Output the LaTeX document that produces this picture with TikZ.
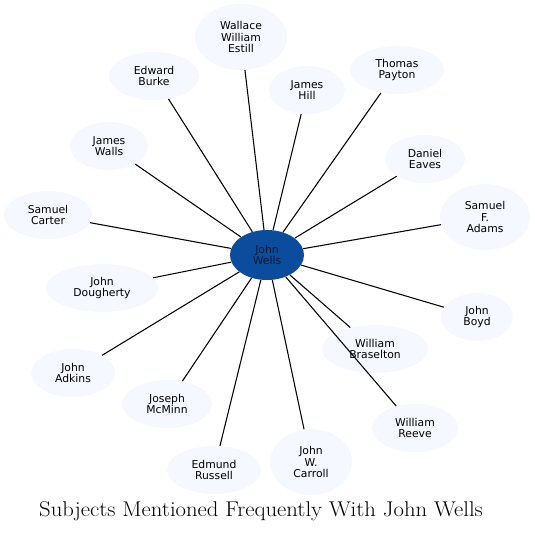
\documentclass[tikz,border=0pt]{standalone}
\usepackage{fontspec}
\newfontfamily\nodefont{DejaVu Sans}
\usetikzlibrary{shapes.geometric}
\definecolor{leaf}{HTML}{F5F8FE}
\definecolor{hub}{HTML}{0B4C9C}
\definecolor{hubtext}{HTML}{101830}
\tikzset{
  leafnode/.style={ellipse, fill=leaf, draw=none, inner sep=0pt, align=center,
    font=\nodefont\fontsize{8.1}{8.7}\selectfont},
  hubnode/.style={ellipse, fill=hub, draw=none, inner sep=0pt, align=center,
    text=hubtext, font=\nodefont\fontsize{8.1}{8.7}\selectfont},
  link/.style={draw=black, line width=0.8pt},
}
\begin{document}
\begin{tikzpicture}[x=0.75pt,y=-0.75pt]
\useasboundingbox (0,0) rectangle (535,532);
\node[hubnode, minimum width=55.5pt, minimum height=37.5pt] (jw) at (267,255) {John\\Wells};
\node[leafnode, minimum width=69pt, minimum height=49.5pt] (wwe) at (241,37) {Wallace\\William\\Estill};
\node[leafnode, minimum width=67.5pt, minimum height=36pt] (eb) at (154,76) {Edward\\Burke};
\node[leafnode, minimum width=57pt, minimum height=36pt] (jh) at (307,90) {James\\Hill};
\node[leafnode, minimum width=70.5pt, minimum height=36pt] (tp) at (397,70) {Thomas\\Payton};
\node[leafnode, minimum width=58.5pt, minimum height=36pt] (jwa) at (109,146) {James\\Walls};
\node[leafnode, minimum width=60pt, minimum height=36pt] (de) at (425,159) {Daniel\\Eaves};
\node[leafnode, minimum width=66pt, minimum height=36pt] (sc) at (48,215) {Samuel\\Carter};
\node[leafnode, minimum width=67.5pt, minimum height=49.5pt] (sfa) at (485,217) {Samuel\\F.\\Adams};
\node[leafnode, minimum width=84pt, minimum height=36pt] (jd) at (102,288) {John\\Dougherty};
\node[leafnode, minimum width=54pt, minimum height=36pt] (jb) at (477,317) {John\\Boyd};
\node[leafnode, minimum width=79.5pt, minimum height=36pt] (wb) at (375,349) {William\\Braselton};
\node[leafnode, minimum width=63pt, minimum height=36pt] (ja) at (73,373) {John\\Adkins};
\node[leafnode, minimum width=67.5pt, minimum height=36pt] (jm) at (167,404) {Joseph\\McMinn};
\node[leafnode, minimum width=64.5pt, minimum height=36pt] (wr) at (415,428) {William\\Reeve};
\node[leafnode, minimum width=70.5pt, minimum height=36pt] (er) at (214,470) {Edmund\\Russell};
\node[leafnode, minimum width=61.5pt, minimum height=49.5pt] (jwc) at (311,462) {John\\W.\\Carroll};
\foreach \t in {wwe,eb,jh,tp,jwa,de,sc,sfa,jd,jb,wb,ja,jm,wr,er,jwc}
  \draw[link] (jw) -- (\t);
\node[font=\fontsize{16}{18}\selectfont] (title) at (261,511) {\scalebox{1.065}[1]{Subjects Mentioned Frequently With John Wells}};
\end{tikzpicture}
\end{document}
